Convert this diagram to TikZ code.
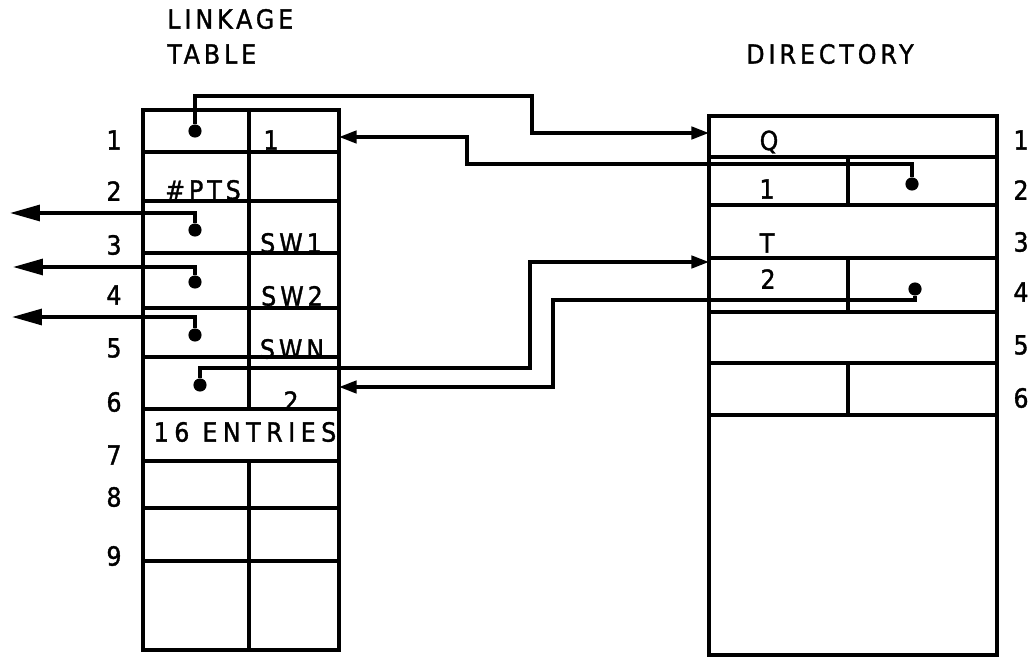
\documentclass[tikz,border=0pt]{standalone}
\usepackage{fontspec}
\setmainfont{DejaVu Sans Condensed}[FakeBold=1.3]
\usetikzlibrary{arrows.meta}
\newcommand{\spaced}[1]{{\addfontfeature{LetterSpace=15}#1}}

\begin{document}
\begin{tikzpicture}[x=0.02cm,y=-0.02cm,font=\fontsize{15}{17}\selectfont,
  grid/.style={line width=2pt},
  ptr/.style={line width=2pt,-{Triangle[length=10pt,width=7pt]}},
  outptr/.style={line width=2pt,-{Triangle[length=17pt,width=9pt]}},
  dot/.style={circle,fill,inner sep=0pt,minimum size=7.5pt},
  lbl/.style={inner sep=0pt}]
  \useasboundingbox (0,0) rectangle (1033,658);
  \def\LL{143}  % linkage table, left edge
  \def\LR{339}  % linkage table, right edge
  \def\LM{249}  % linkage table, divider
  \def\DL{709}  % directory, left edge
  \def\DR{997}  % directory, right edge
  \def\DM{848}  % directory, divider

  % titles
  \node[lbl,anchor=west] (ttlA) at (167,19) {\spaced{LINKAGE}};
  \node[lbl,anchor=west] (ttlB) at (167,54) {\spaced{TABLE}};
  \node[lbl] (ttlC) at (830,54) {\spaced{DIRECTORY}};

  % linkage table
  \draw[grid] (\LL,110) rectangle (\LR,650);
  \foreach \y in {152,201,253,308,357,409,461,508,561}{
    \draw[grid] (\LL,\y) -- (\LR,\y);
  }
  \draw[grid] (\LM,110) -- (\LM,409);
  \draw[grid] (\LM,461) -- (\LM,650);

  % directory
  \draw[grid] (\DL,116) rectangle (\DR,655);
  \foreach \y in {157,205,258,312,363,415}{
    \draw[grid] (\DL,\y) -- (\DR,\y);
  }
  \foreach \a/\b in {157/205,258/312,363/415}{
    \draw[grid] (\DM,\a) -- (\DM,\b);
  }

  % row numbers
  \foreach \n/\y in {1/140,2/191,3/245,4/295,5/348,6/402,7/455,8/497,9/556}{
    \node[lbl] (ln\n) at (114,\y) {\n};
  }
  \foreach \n/\y in {1/140,2/190,3/242,4/292,5/345,6/398}{
    \node[lbl] (rn\n) at (1021,\y) {\n};
  }

  % cell contents
  \node[lbl] (one)  at (271,140) {1};
  \node[lbl] (pts)  at (203,190) {\spaced{\#PTS}};
  \node[lbl] (swa)  at (291,243) {\spaced{SW1}};
  \node[lbl] (swb)  at (292,296) {\spaced{SW2}};
  \node[lbl] (swn)  at (292,349) {\spaced{SWN}};
  \node[lbl] (two)  at (291,401) {2};
  \node[lbl] (ent)  at (245,432) {\addfontfeature{LetterSpace=21}16 ENTRIES};
  \node[lbl] (q)    at (769,142) {Q};
  \node[lbl] (qone) at (767,189) {1};
  \node[lbl] (t)    at (767,243) {T};
  \node[lbl] (ttwo) at (768,279) {2};

  % pointer dots
  \node[dot] (pq)  at (195,131) {};
  \node[dot] (p1)  at (195,230) {};
  \node[dot] (p2)  at (195,282) {};
  \node[dot] (p3)  at (195,335) {};
  \node[dot] (pt)  at (200,385) {};
  \node[dot] (dq)  at (912,184) {};
  \node[dot] (dt)  at (915,289) {};

  % arrow ends
  \coordinate (qin)  at (\DL,133);
  \coordinate (tin)  at (\DL,262);
  \coordinate (oin)  at (\LR,137);
  \coordinate (win)  at (\LR,387);
  \coordinate (out1) at (10,213);
  \coordinate (out2) at (13,267);
  \coordinate (out3) at (12,317);

  % connectors
  \draw[ptr] (pq) |- (532,96) |- (qin);
  \draw[ptr] (dq) |- (467,164) |- (oin);
  \draw[ptr] (pt) |- (530,368) |- (tin);
  \draw[ptr] (dt) |- (553,300) |- (win);
  \draw[outptr] (p1) |- (out1);
  \draw[outptr] (p2) |- (out2);
  \draw[outptr] (p3) |- (out3);
\end{tikzpicture}
\end{document}
